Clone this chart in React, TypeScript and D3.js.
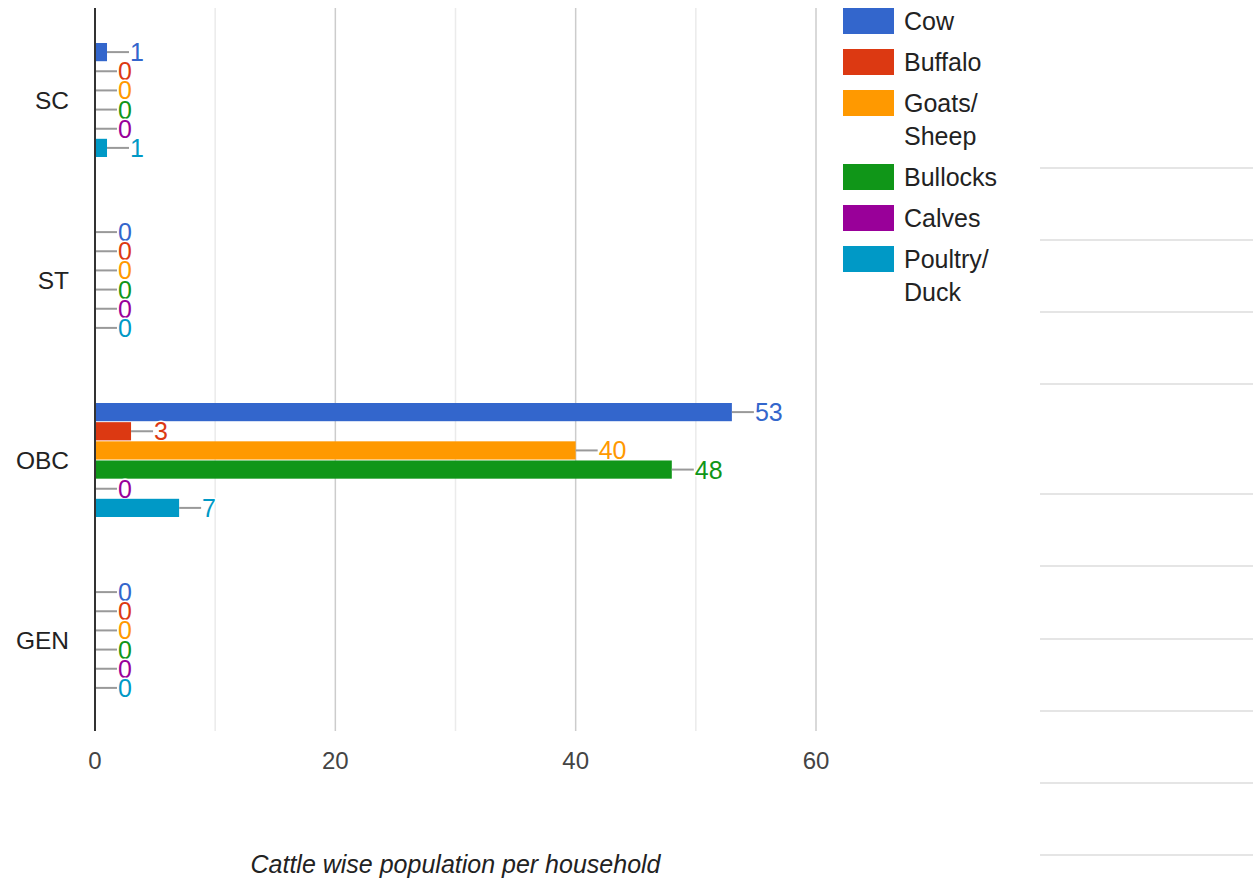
import React from "react";
import * as d3 from "d3";

const categories = ["SC", "ST", "OBC", "GEN"];
const seriesNames = ["Cow", "Buffalo", "Goats/\nSheep", "Bullocks", "Calves", "Poultry/\nDuck"];
const seriesColors = ["#3366cc", "#dc3912", "#ff9900", "#109618", "#990099", "#0099c6"];
const cowValues = [1, 0, 53, 0];
const buffaloValues = [0, 0, 3, 0];
const goatsValues = [0, 0, 40, 0];
const bullocksValues = [0, 0, 48, 0];
const calvesValues = [0, 0, 0, 0];
const poultryValues = [1, 0, 7, 0];
const xTicks = [0, 20, 40, 60];
const gridTicks = [10, 20, 30, 40, 50, 60];
const rightLines = [168, 240, 312, 384, 494, 566, 639, 711, 783, 855];

const allSeries = [cowValues, buffaloValues, goatsValues, bullocksValues, calvesValues, poultryValues];

export default function App() {
  const W = 1253, H = 880;
  const left = 95, right = 816, top = 10, bottom = 730;
  const x = d3.scaleLinear().domain([0, 60]).range([left, right]);
  const y = d3.scaleBand<string>().domain(categories).range([top, bottom]);
  const inner = d3.scaleBand<number>().domain(d3.range(6)).range([0, 114]).paddingInner(0.05);
  const font = "'Liberation Sans', Arial, sans-serif";

  return (
    <svg width={W} height={H} style={{ position: "absolute", left: 0, top: 0, background: "#fff" }} fontFamily={font}>
      {gridTicks.map((t) => (
        <line key={t} x1={x(t)} x2={x(t)} y1={8} y2={bottom + 1}
          stroke={t % 20 === 0 ? "#cccccc" : "#ebebeb"} strokeWidth={1.5} />
      ))}
      {rightLines.map((ly) => (
        <line key={ly} x1={1040} x2={W} y1={ly} y2={ly} stroke="#dddddd" strokeWidth={1.5} />
      ))}
      {categories.map((c, ci) => {
        const cy = (y(c) as number) + y.bandwidth() / 2;
        const g0 = cy - 57;
        return (
          <g key={c}>
            {allSeries.map((vals, si) => {
              const v = vals[ci];
              const by = g0 + (inner(si) as number);
              const bh = inner.bandwidth();
              const mid = by + bh / 2;
              const ex = x(v);
              return (
                <g key={si}>
                  {v > 0 && (
                    <rect x={x(0)} y={by} width={ex - x(0)} height={bh} fill={seriesColors[si]} />
                  )}
                  <line x1={ex} x2={ex + 22} y1={mid} y2={mid} stroke="#999" strokeWidth={2} />
                  <text x={ex + 23} y={mid} dy="0.36em" fontSize={25} fill={seriesColors[si]}
                    stroke="#fff" strokeWidth={3} paintOrder="stroke" strokeLinejoin="round">{v}</text>
                </g>
              );
            })}
            <text x={69} y={cy} dy="0.36em" textAnchor="end" fontSize={24.5} fill="#222">{c}</text>
          </g>
        );
      })}
      <line x1={left} x2={left} y1={8} y2={bottom + 1} stroke="#333" strokeWidth={2} />
      {xTicks.map((t) => (
        <text key={t} x={x(t)} y={760} dy="0.36em" textAnchor="middle" fontSize={24} fill="#444">{t}</text>
      ))}
      <text x={(left + right) / 2} y={864} dy="0.36em" textAnchor="middle" fontSize={25}
        fontStyle="italic" fill="#222">Cattle wise population per household</text>
      {(() => {
        let yy = 8;
        return seriesNames.map((n, i) => {
          const lines = n.split("\n");
          const gy = yy;
          yy += 33 * lines.length + 8;
          return (
            <g key={n}>
              <rect x={843} y={gy} width={51} height={26} fill={seriesColors[i]} />
              {lines.map((ln, li) => (
                <text key={li} x={904} y={gy + 13 + li * 33} dy="0.36em" fontSize={25} fill="#222">{ln}</text>
              ))}
            </g>
          );
        });
      })()}
    </svg>
  );
}
